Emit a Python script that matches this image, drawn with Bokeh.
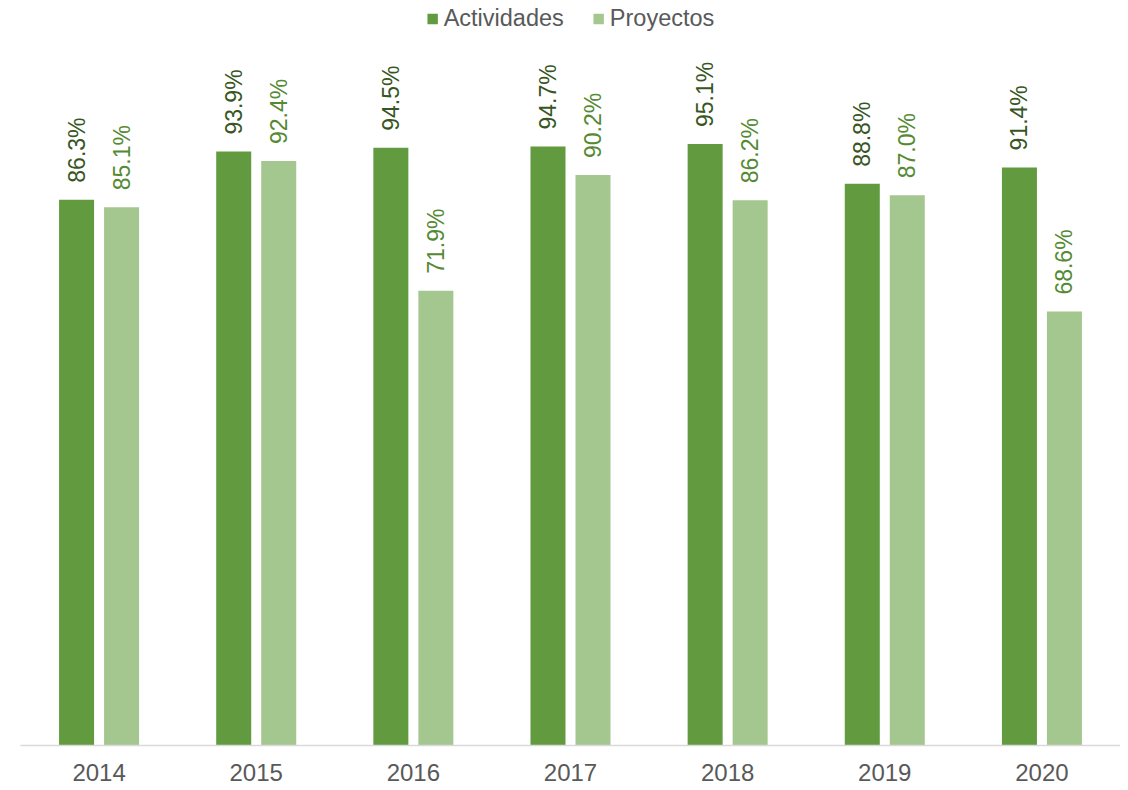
from bokeh.plotting import figure
from bokeh.models import ColumnDataSource, FactorRange, Range1d, Legend, LegendItem
from bokeh.transform import dodge
from bokeh.core.properties import value
from bokeh.embed import file_html
from bokeh.resources import INLINE

years = ["2014", "2015", "2016", "2017", "2018", "2019", "2020"]
actividades = [86.3, 93.9, 94.5, 94.7, 95.1, 88.8, 91.4]
proyectos = [85.1, 92.4, 71.9, 90.2, 86.2, 87.0, 68.6]

FONT = "Liberation Sans"
DARK = "#629b3f"
LIGHT = "#a4c68f"
DARK_TXT = "#375623"
LIGHT_TXT = "#548a33"
GRAY = "#595959"

src = ColumnDataSource(dict(
    year=years,
    act=actividades,
    pro=proyectos,
    act_lbl=[f"{v:.1f}%" for v in actividades],
    pro_lbl=[f"{v:.1f}%" for v in proyectos],
))

p = figure(x_range=FactorRange(*years), y_range=Range1d(0, 117.0),
           width=1120, height=788, output_backend="svg", toolbar_location=None,
           min_border_left=20, min_border_right=0, min_border_top=5, min_border_bottom=43)

OFF = 0.1432
W = 0.2228
r1 = p.vbar(x=dodge("year", -OFF, range=p.x_range), top="act", width=W, source=src,
            fill_color=DARK, line_color=None)
r2 = p.vbar(x=dodge("year", OFF, range=p.x_range), top="pro", width=W, source=src,
            fill_color=LIGHT, line_color=None)

p.text(x=dodge("year", -OFF, range=p.x_range), y="act", text="act_lbl", source=src,
       angle=1.5708, text_align="left", text_baseline="middle", y_offset=-17,
       text_font=value(FONT), text_font_size="23px", text_color=DARK_TXT)
p.text(x=dodge("year", OFF, range=p.x_range), y="pro", text="pro_lbl", source=src,
       angle=1.5708, text_align="left", text_baseline="middle", y_offset=-17,
       text_font=value(FONT), text_font_size="23px", text_color=LIGHT_TXT)

legend = Legend(items=[LegendItem(label="Actividades", renderers=[r1]),
                       LegendItem(label="Proyectos", renderers=[r2])],
                location="top_center", orientation="horizontal",
                background_fill_alpha=0, border_line_color=None,
                label_text_font=FONT, label_text_font_size="23.5px", label_text_color=GRAY,
                glyph_width=13, glyph_height=13, label_standoff=5, spacing=28,
                padding=0, margin=0)
p.add_layout(legend)

p.yaxis.visible = False
p.xgrid.grid_line_color = None
p.ygrid.grid_line_color = None
p.outline_line_color = None
p.xaxis.axis_line_color = "#d9d9d9"
p.xaxis.axis_line_width = 1.5
p.xaxis.major_tick_line_color = None
p.xaxis.minor_tick_line_color = None
p.xaxis.major_tick_out = 0
p.xaxis.major_label_standoff = 18
p.xaxis.major_label_text_font = FONT
p.xaxis.major_label_text_font_size = "24px"
p.xaxis.major_label_text_color = GRAY
p.x_range.range_padding = 0
p.x_range.group_padding = 0

open("out.html", "w").write(file_html(p, INLINE))
